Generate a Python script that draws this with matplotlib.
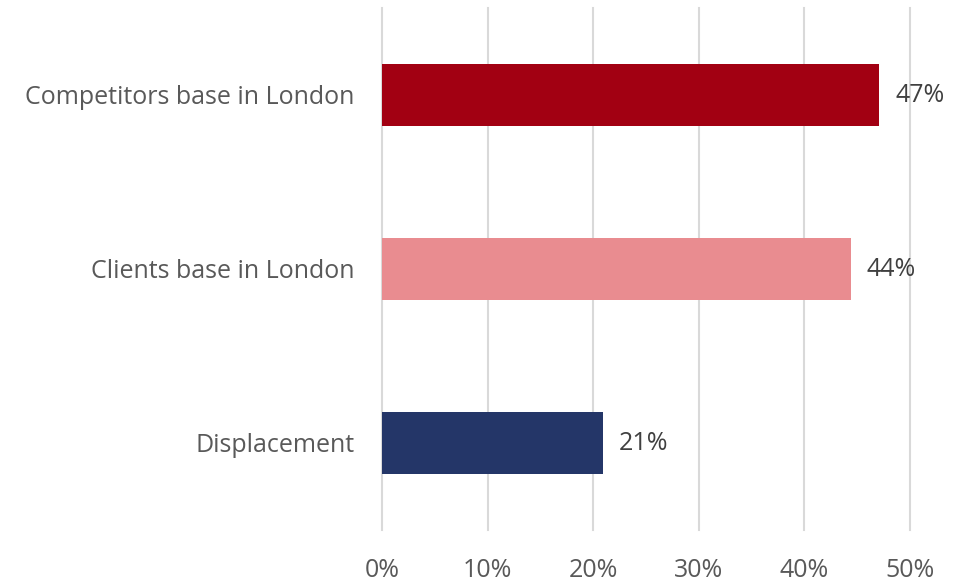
import matplotlib.pyplot as plt
from matplotlib.ticker import PercentFormatter

# Data
categories = ["Displacement", "Clients base in London", "Competitors base in London"]
values = [20.9, 44.4, 47.1]
labels = ["21%", "44%", "47%"]
colors = ["#243668", "#E98C90", "#A20012"]

plt.rcParams['font.family'] = ['Open Sans', 'DejaVu Sans']

fig = plt.figure(figsize=(9.63, 5.83), dpi=100)
ax = fig.add_axes([382 / 963, 53 / 583, 528 / 963, 522 / 583])

y = range(len(categories))
ax.barh(y, values, height=0.355, color=colors, zorder=3)
for yi, v, lab in zip(y, values, labels):
    ax.text(v + 1.5, yi, lab, va='center', ha='left', fontsize=18, color='#404040')

ax.set_xlim(0, 50)
ax.set_ylim(-0.5, 2.5)
ax.set_xticks([0, 10, 20, 30, 40, 50])
ax.xaxis.set_major_formatter(PercentFormatter(decimals=0))
ax.set_yticks(list(y))
ax.set_yticklabels(categories)
ax.grid(axis='x', color='#D9D9D9', linewidth=1.5, zorder=0)
for line in ax.get_xgridlines():
    line.set_clip_on(False)
for s in ax.spines.values():
    s.set_visible(False)
ax.tick_params(axis='both', length=0, labelsize=18, labelcolor='#595959')
ax.tick_params(axis='y', pad=20)
ax.tick_params(axis='x', pad=20)

fig.savefig("out.png", dpi=100)
